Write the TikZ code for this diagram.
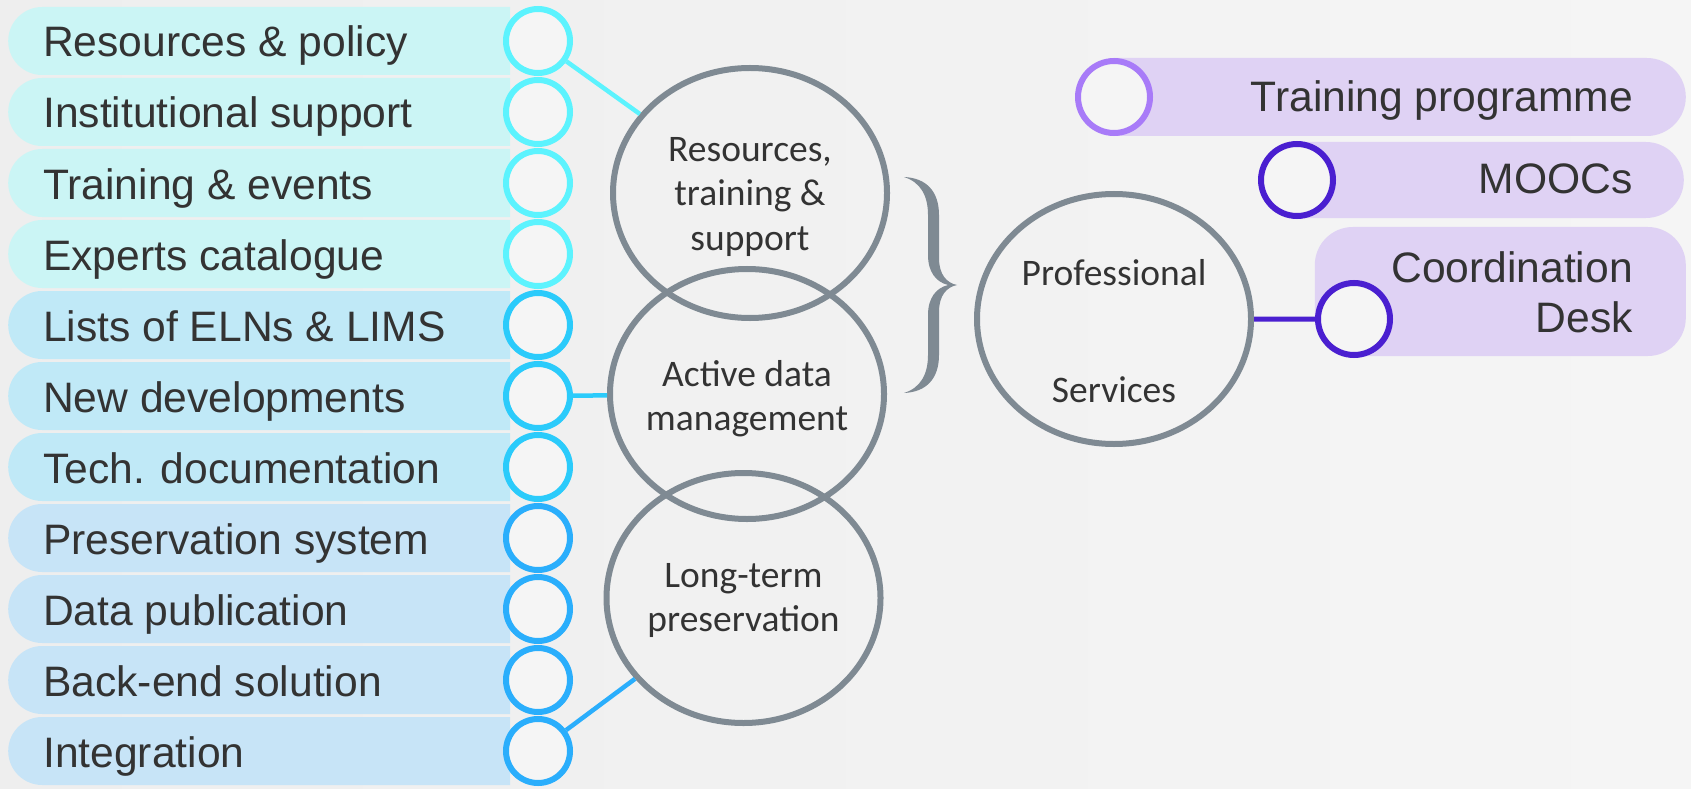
\documentclass[tikz,border=0pt]{standalone}
\usepackage{fontspec}
\setmainfont{Liberation Sans}
\newfontfamily\hubfont{Carlito}
\usetikzlibrary{shapes.geometric,shapes.misc}
\definecolor{bgleft}{HTML}{EEEEEE}
\definecolor{bgright}{HTML}{F5F5F5}
\definecolor{barcyan}{HTML}{CBF5F5}
\definecolor{ringcyan}{HTML}{5CF3FE}
\definecolor{barsky}{HTML}{C0E9F7}
\definecolor{ringsky}{HTML}{2BCBFB}
\definecolor{barblue}{HTML}{C7E4F7}
\definecolor{ringblue}{HTML}{2AAEFC}
\definecolor{ringfill}{HTML}{F5F5F5}
\definecolor{hubgray}{HTML}{7F8A93}
\definecolor{barlilac}{HTML}{DFD2F4}
\definecolor{ringlilac}{HTML}{A87BF8}
\definecolor{ringindigo}{HTML}{4A1FD0}
\definecolor{inkgray}{HTML}{333333}

\begin{document}
\begin{tikzpicture}[scale=0.35146]
            \tikzstyle{every node}+=[inner sep=0pt, text=inkgray]
            \tikzstyle{leftbar}=[rounded rectangle, rounded rectangle right arc=none, minimum width=502pt, minimum height=68pt, anchor=west]
            \tikzstyle{ring}=[circle, draw, line width=6pt, fill=ringfill, minimum size=64pt]
            \tikzstyle{itemtext}=[anchor=base west, font=\fontsize{42.6pt}{50pt}\selectfont]
            \tikzstyle{hub}=[ellipse, draw=hubgray, line width=6pt, minimum width=274pt, minimum height=250pt]
            \tikzstyle{hubtext}=[anchor=base, align=center, font=\hubfont\fontsize{37.5pt}{44.5pt}\selectfont]
            \tikzstyle{rightbar}=[rounded rectangle, rounded rectangle left arc=none, fill=barlilac, anchor=east]
            \tikzstyle{righttext}=[anchor=base east, align=right, font=\fontsize{42.6pt}{50pt}\selectfont]
            \useasboundingbox (0,0) rectangle (169.1,-78.9);
            \shade [left color=bgleft, right color=bgright] (0,0) rectangle (169.1,-78.9);
            \node [leftbar, fill=barcyan] (bar1) at (0.8,-4.1) {};
            \node [leftbar, fill=barcyan] (bar2) at (0.8,-11.2) {};
            \node [leftbar, fill=barcyan] (bar3) at (0.8,-18.3) {};
            \node [leftbar, fill=barcyan] (bar4) at (0.8,-25.4) {};
            \node [leftbar, fill=barsky] (bar5) at (0.8,-32.5) {};
            \node [leftbar, fill=barsky] (bar6) at (0.8,-39.6) {};
            \node [leftbar, fill=barsky] (bar7) at (0.8,-46.7) {};
            \node [leftbar, fill=barblue] (bar8) at (0.8,-53.8) {};
            \node [leftbar, fill=barblue] (bar9) at (0.8,-60.9) {};
            \node [leftbar, fill=barblue] (bar10) at (0.8,-68.0) {};
            \node [leftbar, fill=barblue] (bar11) at (0.8,-75.1) {};
            \node [itemtext] (t1) at (4.3,-5.7) {Resources \& policy};
            \node [itemtext] (t2) at (4.3,-12.8) {Institutional support};
            \node [itemtext] (t3) at (4.3,-19.9) {Training \& events};
            \node [itemtext] (t4) at (4.3,-27.0) {Experts catalogue};
            \node [itemtext] (t5) at (4.3,-34.1) {Lists of ELNs \& LIMS};
            \node [itemtext] (t6) at (4.3,-41.2) {New developments};
            \node [itemtext] (t7) at (4.3,-48.3) {Tech. documentation};
            \node [itemtext] (t8) at (4.3,-55.4) {Preservation system};
            \node [itemtext] (t9) at (4.3,-62.5) {Data publication};
            \node [itemtext] (t10) at (4.3,-69.6) {Back-end solution};
            \node [itemtext] (t11) at (4.3,-76.7) {Integration};
            \node [ring, draw=ringcyan] (ring1) at (53.8,-4.1) {};
            \node [ring, draw=ringcyan] (ring2) at (53.8,-11.2) {};
            \node [ring, draw=ringcyan] (ring3) at (53.8,-18.3) {};
            \node [ring, draw=ringcyan] (ring4) at (53.8,-25.4) {};
            \node [ring, draw=ringsky] (ring5) at (53.8,-32.5) {};
            \node [ring, draw=ringsky] (ring6) at (53.8,-39.6) {};
            \node [ring, draw=ringsky] (ring7) at (53.8,-46.7) {};
            \node [ring, draw=ringblue] (ring8) at (53.8,-53.8) {};
            \node [ring, draw=ringblue] (ring9) at (53.8,-60.9) {};
            \node [ring, draw=ringblue] (ring10) at (53.8,-68.0) {};
            \node [ring, draw=ringblue] (ring11) at (53.8,-75.1) {};
            \node [hub] (hubA) at (75.0,-19.3) {};
            \node [hub] (hubB) at (74.7,-39.4) {};
            \node [hub] (hubC) at (74.35,-59.8) {};
            \node [hub] (hubP) at (111.4,-31.9) {};
            \node [hubtext] (tA) at (75.0,-25.05) {Resources,\\training \&\\support};
            \node [hubtext] (tB) at (74.7,-43.05) {Active data\\management};
            \node [hubtext] (tC) at (74.35,-63.15) {Long-term\\preservation};
            \node [hubtext] (tP1) at (111.4,-28.5) {Professional};
            \node [hubtext] (tP2) at (111.4,-40.2) {Services};
            \draw [ringcyan, line width=4.5pt] (ring1) -- (hubA);
            \draw [ringsky, line width=4.5pt] (ring6) -- (hubB);
            \draw [ringblue, line width=4.5pt] (ring11) -- (hubC);
            \fill [hubgray] (90.4,-17.7) .. controls (92.7,-17.8) and (93.9,-19.2) .. (93.9,-21.5)
              -- (93.9,-25.8) .. controls (93.9,-27.5) and (94.7,-28.3) .. (95.7,-28.5)
              .. controls (94.7,-28.7) and (93.9,-29.5) .. (93.9,-31.2)
              -- (93.9,-35.5) .. controls (93.9,-37.8) and (92.7,-39.2) .. (90.4,-39.3)
              .. controls (92.0,-38.8) and (92.8,-37.5) .. (92.8,-35.5)
              -- (92.8,-31.5) .. controls (92.8,-29.8) and (93.6,-28.8) .. (94.8,-28.5)
              .. controls (93.6,-28.2) and (92.8,-27.2) .. (92.8,-25.5)
              -- (92.8,-21.5) .. controls (92.8,-19.5) and (92.0,-18.2) .. (90.4,-17.7) -- cycle;
            \node [rightbar, minimum width=572pt, minimum height=78pt] (barTP) at (168.6,-9.7) {};
            \node [rightbar, minimum width=387pt, minimum height=76pt] (barMO) at (168.4,-18.0) {};
            \node [rectangle, rounded corners=38pt, fill=barlilac, minimum width=371pt, minimum height=129pt, anchor=east] (barCD) at (168.6,-29.15) {};
            \node [ring, draw=ringlilac, minimum size=72pt] (ringTP) at (111.4,-9.7) {};
            \node [ring, draw=ringindigo, minimum size=72pt] (ringMO) at (129.7,-18.0) {};
            \node [ring, draw=ringindigo, minimum size=72pt] (ringCD) at (135.4,-31.9) {};
            \draw [ringindigo, line width=5pt] (hubP) -- (ringCD);
            \node [righttext] (tTP) at (163.3,-11.2) {Training programme};
            \node [righttext] (tMO) at (163.3,-19.4) {MOOCs};
            \node [righttext] (tCD) at (163.3,-33.2) {Coordination\\Desk};
        \end{tikzpicture}
\end{document}
